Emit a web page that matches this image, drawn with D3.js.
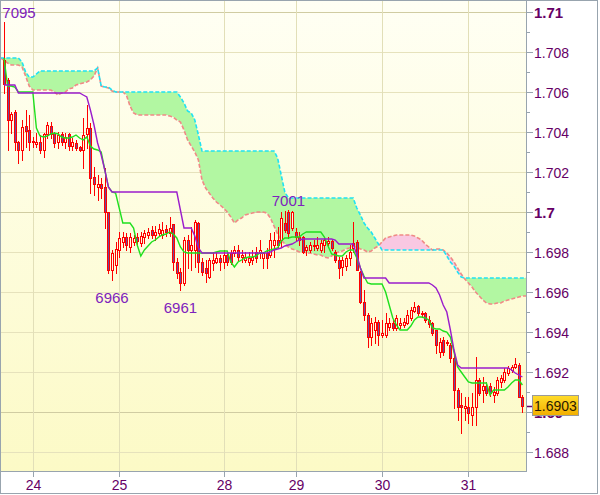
<!DOCTYPE html>
<html><head><meta charset="utf-8">
<script src="https://cdn.jsdelivr.net/npm/d3@7"></script>
<style>html,body{margin:0;padding:0;background:#fff;}svg{display:block;}</style>
</head><body><svg id="c" width="600" height="495"></svg>
<script>
// Values in points: price = 1 + v/10000
const open = [7076,7066,7046,7050,7035,7031,7043,7041,7035,7034,
7035,7031,7039,7043,7039.5,7035,7039,7035,7039,7033,
7034.5,7032.5,7031,7039,7042,7017.5,7012.5,7014,7012.5,7000,
6971,6973.5,6981,6985,6987.5,6982.5,6985,6987.5,6984.5,6987.5,
6988.5,6991,6988.5,6989.5,6988.5,6991.5,6989.5,6994,6975,6970,
6964.5,6986,6981,6981,6994.5,6975,6972,6967.5,6974.5,6975,
6977,6975,6978.5,6979.5,6979.5,6981,6977.5,6976,6975,6976,
6980,6979.5,6977,6979.5,6978.5,6983.5,6986,6986,6994.5,7000,
6992,6990,6987.5,6987.5,6981,6981,6983,6982,6981,6983.5,
6984.5,6985.5,6980,6976,6972.5,6973,6977,6982,6985,6970,
6955,6948.5,6937.5,6941,6945,6938.5,6938.5,6942.5,6944.5,6942,
6943.5,6943.5,6944.5,6947,6950.5,6953,6949.5,6949.5,6946,6944.5,
6941,6930,6936,6935,6933.5,6927,6911,6903.5,6902,6902.5,
6898.5,6902.5,6916,6911,6913,6913,6908.5,6909.5,6915,6916,
6919.5,6921,6922.5,6923.5,6907.5];
const high = [7095,7067,7050,7051,7035.5,7046,7051,7048.5,7037.5,7039.5,
7038.5,7039.5,7045,7045,7040,7040,7040,7039.5,7039.5,7037,
7036,7033,7047,7053.5,7044.5,7022.5,7018.5,7017,7022,7000,
6981,6985,6990,6990,6989.5,6989.5,6988.5,6989.5,6990,6991,
6992,6993,6993,6994,6995,6993.5,6997.5,6994,6977,6972,
6987.5,6988.5,6992.5,6996,6995,6977,6976,6977,6979.5,6980,
6978.5,6981,6980,6981,6983,6983.5,6981,6980,6980,6981,
6982.5,6986,6980,6982,6989.5,6990,6992.5,7000,7000.5,7001,
7000.5,6992,6990,6988,6983.5,6985,6986,6987.5,6986,6987.5,
6987.5,6986,6981,6977.5,6977.5,6978.5,6983.5,6995,6986,6970.5,
6961,6949.5,6947,6947.5,6946,6946,6949.5,6947,6946,6948.5,
6947,6947,6951,6952.5,6955,6953.5,6950.5,6950,6948,6945,
6941,6937,6937.5,6936,6934.5,6928.5,6912,6909.5,6907.5,6907.5,
6909.5,6927.5,6917,6917.5,6915,6914.5,6912.5,6917.5,6918.5,6922,
6923,6923.5,6927,6924.5,6908.5];
const low = [7059.5,7031,7039.5,7031,7024.5,7026,7032.5,7031,7032.5,7032.5,
7029.5,7027.5,7037,7037,7032.5,7032,7033.5,7032,7031,7031,
7031,7030.5,7022,7032,7009.5,7008.5,7006,7007,6992,6969.5,
6966,6969.5,6977.5,6982.5,6981,6980,6983.5,6983,6983,6984.5,
6987,6987,6986,6988,6987,6988,6988,6971,6967,6961,
6963.5,6972,6971,6972.5,6970,6968.5,6965,6967,6971,6974.5,
6971,6972,6973.5,6974,6978,6976,6975,6975,6973.5,6974,
6975,6977,6972,6972,6977.5,6977.5,6982.5,6982.5,6990,6987,
6991,6986,6983.5,6979.5,6978.5,6980,6981,6981,6980,6980,
6983.5,6981,6975,6967,6968.5,6971,6973.5,6980,6971,6954.5,
6946,6932.5,6933.5,6934.5,6933.5,6937.5,6937.5,6941,6941,6941,
6942,6942.5,6944,6946,6950,6948.5,6947.5,6945,6942.5,6938.5,
6929.5,6927.5,6928.5,6933.5,6925,6902,6896,6889.5,6896,6894.5,
6893.5,6893.5,6908.5,6905,6908.5,6908,6905,6908.5,6912.5,6915,
6918.5,6920,6922,6907.5,6900];
const close = [7064,7046,7049,7035,7031,7042.5,7040.5,7035,7035.5,7035,
7031,7039,7043.5,7039,7034.5,7038.5,7035,7037.5,7033,7035,
7032,7031,7038.5,7042,7017,7014,7014,7012,7000,6971,
6979.5,6981.5,6987,6987.5,6983.5,6987.5,6987,6985.5,6988,6989.5,
6990,6988.5,6990,6991.5,6991,6990,6992,6975,6969.5,6964.5,
6986,6981,6983.5,6995,6975,6970,6969.5,6976,6976,6977,
6975,6978.5,6975,6975,6981,6977.5,6978.5,6977.5,6977,6977.5,
6977,6981,6979.5,6977,6986,6986,6983.5,6997,6991,6989.5,
7000,6987.5,6986,6980,6982.5,6983.5,6983.5,6983.5,6984.5,6986,
6985.5,6982,6976,6972,6976,6977,6980,6984.5,6971,6955,
6948.5,6937.5,6944.5,6945,6938.5,6939.5,6944.5,6944.5,6942,6947,
6944.5,6945,6948.5,6951,6952.5,6949.5,6949,6946,6944,6939.5,
6933.5,6935,6930,6934.5,6927,6911,6902.5,6902.5,6903,6899.5,
6902.5,6916,6909.5,6913,6909.5,6909.5,6910,6916,6917,6920,
6922,6922.5,6924,6907.5,6903];
const tenkan = [7077,7063,7063,7062.5,7060,7060,7060,7060,7060,7042,
7038,7037.5,7038,7039,7039.5,7039,7037.5,7037,7037,7037.5,
7038.5,7037,7036,7037.5,7033,7031.5,7031,7030,7021,7012.5,
7010,7009.5,7002,6994.5,6994.5,6994.5,6992,6983.5,6978,6981,
6983,6985,6986,6987.5,6988.5,6989,6990,6989,6987,6982.5,
6980,6979.5,6979.5,6979.5,6979.5,6979.5,6979.5,6979.5,6979.5,6980,
6980.5,6980.5,6980.5,6975,6972.5,6975,6976,6977,6977.5,6977.5,
6978,6979.5,6979.5,6980.5,6981,6981.5,6982,6985.5,6987,6987,
6987.5,6987.5,6987.5,6989,6990,6990,6990,6990,6990,6987.5,
6983,6979,6978.5,6978,6978,6980,6981,6981,6977,6972,
6968,6964.5,6964,6964,6964,6964,6960,6953.5,6947,6943.5,
6941,6941,6941,6943,6946,6947.5,6947.5,6947,6946,6942,
6941.5,6941.5,6940.5,6940,6937.5,6930,6922.5,6920,6917.5,6915,
6914.5,6914.5,6914.5,6914.5,6914.5,6908.5,6911,6911,6911,6911,
6912.5,6914.5,6916,6916,6913.5];
const kijun = [7063.5,7063.5,7063.5,7063.5,7059.5,7059.5,7059.5,7059.5,7059.5,7059.5,
7059.5,7059.5,7059.5,7059.5,7059.5,7059.5,7059.5,7059.5,7059.5,7059.5,
7059.5,7059.5,7058.5,7057.5,7051,7043.5,7034.5,7028.5,7021,7012.5,
7010,7010,7010,7010,7010,7010,7010,7010,7010,7010,
7010,7010,7010,7010,7010,7010,7010,7010,7010,7001,
6992,6992,6992,6988,6982,6979.5,6979.5,6979.5,6979.5,6979.5,
6979.5,6979.5,6979.5,6979.5,6979.5,6979.5,6979.5,6979.5,6979.5,6979.5,
6979.5,6979.5,6979.5,6979.5,6980,6981,6981.5,6982,6983,6983.5,
6984,6985,6986,6986.5,6986.5,6986.5,6986.5,6986.5,6986.5,6986.5,
6986.5,6986.5,6986,6984,6984,6984,6984,6984,6978.5,6972,
6967,6967,6967,6967,6967,6967,6967,6964.5,6964.5,6964.5,
6964.5,6964.5,6964.5,6964.5,6964.5,6964.5,6964.5,6964.5,6964.5,6963.5,
6962,6958.5,6953.5,6950,6941,6931,6923.5,6922,6922,6922,
6922,6922,6922,6922,6922,6922,6922,6922,6922,6922,
6922,6921,6919.5,6918.5,6917.5];
// cloud lines, index -1 .. 145
const cloudStart = -1;
const spanA = [7077,7077,7077,7077,7077,7077,7075,7070,7067.5,7067.5,7069,
7070.5,7070.5,7070.5,7070.5,7070.5,7070.5,7070.5,7070.5,7070.5,7070.5,
7070.5,7070.5,7070.5,7070.5,7070.5,7070.5,7072,7063,7062.5,7062.5,
7061,7060,7060,7060,7060,7060,7060,7060,7060,7060,
7060,7060,7060,7060,7060,7060,7060,7060,7060,7057.5,
7054.5,7050.5,7049.5,7046,7038.5,7030.5,7030.5,7030.5,7030.5,7030.5,
7030.5,7030.5,7030.5,7030.5,7030.5,7030.5,7030.5,7030.5,7030.5,7030.5,
7030.5,7030.5,7030.5,7030.5,7030.5,7030.5,7027,7018.5,7010,7007,
7007,7007,7007,7007,7007,7007,7007,7007,7007,7007,
7007,7007,7007,7007,7007,7007,7007,7007,7002,6998.5,
6994.5,6992,6990,6987,6984,6981,6981,6981,6981,6981,
6981,6981,6981,6981,6981,6981,6981,6981,6981,6981,
6981,6981,6981,6978,6975,6973,6970,6967.5,6967,6967,
6967,6967,6967,6967,6967,6967,6967,6967,6967,6967,
6967,6967,6967,6967,6967,6967];
const spanB = [7077,7076,7074.5,7073.5,7073.5,7073.5,7072.5,7068,7063,7061,
7061,7061,7061,7061,7061,7060,7058.5,7059.5,7060,7061.5,
7062,7063.5,7064,7064.5,7065,7066,7068,7072,7063,7062.5,
7062,7060.5,7060,7060,7060,7058.5,7053,7049.5,7048.5,7048.5,
7048.5,7048.5,7048.5,7048.5,7048.5,7048.5,7048.5,7048,7047.5,7046,
7045,7041,7036,7033,7030,7026,7016,7012,7009.5,7007,
7005,7003.5,7002,7000,6997.5,6994.5,6996,6997,6998.5,6999,
6999.5,7000,7000,7000,6999.5,6997,6993,6989,6986,6984,
6982.5,6981.5,6981,6980,6980,6979.5,6979.5,6979,6978.5,6978.5,
6977.5,6977,6978,6979.5,6980,6980.5,6981.5,6982,6982.5,6982.5,
6981.5,6981,6980,6980.5,6982,6983,6985,6987,6987.5,6988,
6988.5,6988.5,6988.5,6988.5,6988.5,6988,6987,6986,6984,6982.5,
6981,6981.5,6981.5,6981,6979.5,6977.5,6975,6972,6969,6966.5,
6964.5,6962.5,6960,6958,6956,6954.5,6954,6954,6954.5,6954.5,
6955.5,6956,6956.5,6957,6957.5,6958,6958];
const xTickIndex = [8,32,61,81,105,129];
const xTickLabels = ["24","25","28","29","30","31"];
const yTickValues = [1.688,1.689,1.690,1.691,1.692,1.693,1.694,1.695,1.696,1.697,1.698,1.699,1.700,1.701,1.702,1.703,1.704,1.705,1.706,1.707,1.708,1.709,1.710];
const extremeIndex = [0,30,49,79];
const extremeKind = ["high","low","low","high"];

const toPrice = v => 1 + v/10000;
const P = {left:1,right:526,top:0,bottom:471};
const svg = d3.select("#c");
const x = d3.scaleLinear().domain([0,144]).range([4,522.4]);
const y = d3.scaleLinear().domain([1.688,1.710]).range([452,12]);
const FONT = "'Liberation Sans', Arial, sans-serif";
const AX = "#660066";

const defs = svg.append("defs");
const g1 = defs.append("linearGradient").attr("id","bg").attr("x1",0).attr("y1",0).attr("x2",0).attr("y2",1);
g1.append("stop").attr("offset","0%").attr("stop-color","#fffff4");
g1.append("stop").attr("offset","100%").attr("stop-color","#fcfac6");
const g2 = defs.append("linearGradient").attr("id","lbl").attr("x1",0).attr("y1",0).attr("x2",0).attr("y2",1);
g2.append("stop").attr("offset","0%").attr("stop-color","#ffdc2a");
g2.append("stop").attr("offset","100%").attr("stop-color","#f2ae00");
defs.append("clipPath").attr("id","plotclip").append("rect")
  .attr("x",P.left).attr("y",P.top).attr("width",P.right-P.left).attr("height",P.bottom-P.top);

svg.append("rect").attr("width",600).attr("height",495).attr("fill","#fff");
svg.append("rect").attr("x",P.left).attr("y",P.top).attr("width",P.right-P.left).attr("height",P.bottom-P.top).attr("fill","url(#bg)");

const plot = svg.append("g").attr("clip-path","url(#plotclip)");

// grid
const majorTicks = yTickValues.filter((v,k)=>k%2===0);
plot.selectAll("line.hg").data(majorTicks).join("line")
  .attr("x1",P.left).attr("x2",P.right)
  .attr("y1",d=>Math.round(y(d))+0.5).attr("y2",d=>Math.round(y(d))+0.5)
  .attr("stroke",d=>Math.abs(d*100-Math.round(d*100))<1e-6 ? "#d0cca2" : "#e6e2bc").attr("stroke-width",1);
plot.selectAll("line.vg").data(xTickIndex).join("line")
  .attr("x1",d=>Math.round(x(d))+0.5).attr("x2",d=>Math.round(x(d))+0.5)
  .attr("y1",P.top).attr("y2",P.bottom)
  .attr("stroke","#e2dfb8").attr("stroke-width",1);

// cloud
const cloud = spanA.map((a,k)=>({i:k+cloudStart,a:toPrice(a),b:toPrice(spanB[k])}));
const between = d3.area().x(d=>x(d.i)).y0(d=>y(d.a)).y1(d=>y(d.b));
const aboveB = d3.area().x(d=>x(d.i)).y0(-10).y1(d=>y(d.b));
const belowB = d3.area().x(d=>x(d.i)).y0(d=>y(d.b)).y1(P.bottom+10);
defs.append("clipPath").attr("id","cA").append("path").attr("d",aboveB(cloud));
defs.append("clipPath").attr("id","cB").append("path").attr("d",belowB(cloud));
plot.append("g").attr("clip-path","url(#cA)").append("path").attr("d",between(cloud)).attr("fill","#b2f7a2");
plot.append("g").attr("clip-path","url(#cB)").append("path").attr("d",between(cloud)).attr("fill","#f9c8e2");
const lineA = d3.line().x(d=>x(d.i)).y(d=>y(d.a));
const lineB = d3.line().x(d=>x(d.i)).y(d=>y(d.b));
plot.append("path").attr("d",lineB(cloud)).attr("fill","none").attr("stroke","#f08a86").attr("stroke-width",1.6).attr("stroke-dasharray","4,2");
plot.append("path").attr("d",lineA(cloud)).attr("fill","none").attr("stroke","#1fe2f4").attr("stroke-width",1.6).attr("stroke-dasharray","4,2");

// candles
const candles = open.map((o,i)=>({i,o:toPrice(o),h:toPrice(high[i]),l:toPrice(low[i]),c:toPrice(close[i])}));
const cg = plot.append("g").attr("shape-rendering","crispEdges");
cg.selectAll("line.w").data(candles).join("line")
  .attr("x1",d=>Math.round(x(d.i))+0.5).attr("x2",d=>Math.round(x(d.i))+0.5)
  .attr("y1",d=>Math.round(y(d.h))).attr("y2",d=>Math.round(y(d.l))+1)
  .attr("stroke","#ff0000").attr("stroke-width",1);
cg.selectAll("rect.b").data(candles).join("rect")
  .attr("x",d=>Math.round(x(d.i))-1+0.5)
  .attr("y",d=>Math.round(y(Math.max(d.o,d.c)))+0.5)
  .attr("width",2)
  .attr("height",d=>Math.max(1,Math.round(y(Math.min(d.o,d.c)))-Math.round(y(Math.max(d.o,d.c)))))
  .attr("fill",d=>d.c<d.o ? "#6b4b9e" : "#fefee2")
  .attr("stroke","#ff0000").attr("stroke-width",1);

// tenkan / kijun
const lt = d3.line().x((d,i)=>x(i)).y(d=>y(toPrice(d)));
plot.append("path").attr("d",lt(tenkan)).attr("fill","none").attr("stroke","#1ee01e").attr("stroke-width",1.4);
plot.append("path").attr("d",lt(kijun)).attr("fill","none").attr("stroke","#9a1ccc").attr("stroke-width",1.4);

// extreme labels
extremeIndex.forEach((i,k)=>{
  const isHigh = extremeKind[k]==="high";
  const v = isHigh ? high[i] : low[i];
  let cx = x(i);
  cx = Math.max(cx, 19);
  svg.append("text").attr("x",cx).attr("y",isHigh ? y(toPrice(v))-4 : y(toPrice(v))+23)
    .attr("text-anchor","middle").attr("font-family",FONT).attr("font-size",15)
    .attr("fill","#7d22bd").text(String(v));
});

// axes frame
svg.append("line").attr("x1",0.5).attr("x2",0.5).attr("y1",0).attr("y2",P.bottom).attr("stroke","#98a4ae");
svg.append("line").attr("x1",P.right+0.5).attr("x2",P.right+0.5).attr("y1",0).attr("y2",P.bottom+1).attr("stroke","#98a4ae");
svg.append("line").attr("x1",0).attr("x2",P.right+1).attr("y1",P.bottom+0.5).attr("y2",P.bottom+0.5).attr("stroke","#98a4ae");

// right axis
const ra = svg.append("g");
yTickValues.forEach((v,k)=>{
  const yy = Math.round(y(v))+0.5;
  const major = k%2===0;
  ra.append("line").attr("x1",P.right+1).attr("x2",P.right+(major?7:4)).attr("y1",yy).attr("y2",yy).attr("stroke","#98a4ae");
  if(major){
    const bold = Math.abs(v*100-Math.round(v*100))<1e-6;
    const txt = d3.format(".3f")(v).replace(/0+$/,"").replace(/\.$/,"");
    ra.append("text").attr("x",534).attr("y",yy).attr("dy","0.36em")
      .attr("font-family",FONT).attr("font-size",bold?15:14).attr("font-weight",bold?"bold":"normal")
      .attr("fill",AX).text(txt);
  }
});
// bottom axis
xTickIndex.forEach((d,k)=>{
  const xx = Math.round(x(d))+0.5;
  svg.append("line").attr("x1",xx).attr("x2",xx).attr("y1",P.bottom+1).attr("y2",P.bottom+6).attr("stroke","#98a4ae");
  svg.append("text").attr("x",xx).attr("y",490).attr("text-anchor","middle")
    .attr("font-family",FONT).attr("font-size",14).attr("fill",AX).text(xTickLabels[k]);
});

// last price marker
const last = toPrice(close[close.length-1]);
const ly = Math.round(y(last));
svg.append("line").attr("x1",P.right+1).attr("x2",P.right+7).attr("y1",ly+0.5).attr("y2",ly+0.5).attr("stroke",AX).attr("stroke-width",1.5);
svg.append("rect").attr("x",532.5).attr("y",ly-10.5).attr("width",46).attr("height",20)
  .attr("fill","url(#lbl)").attr("stroke","#9a9a9a");
svg.append("text").attr("x",555.5).attr("y",ly).attr("dy","0.36em").attr("text-anchor","middle")
  .attr("font-family",FONT).attr("font-size",14).attr("fill","#2a1a00").text(d3.format(".4f")(last));

// outer border
svg.append("rect").attr("x",0.5).attr("y",0.5).attr("width",597).attr("height",493).attr("fill","none").attr("stroke","#98a4ae");
</script></body></html>
